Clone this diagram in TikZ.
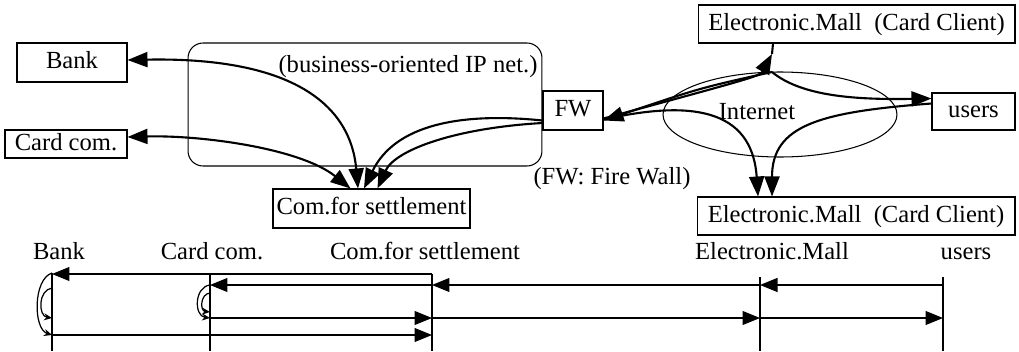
\documentclass[tikz,border=0pt]{standalone}
\usepackage{fontspec}
\setmainfont{Liberation Serif}
\usepackage{tikz}
\usetikzlibrary{shapes.geometric,arrows.meta,positioning,calc}

\begin{document}
\begin{tikzpicture}[
    x=0.02cm, y=-0.02cm,
    every node/.style={font=\fontsize{14}{16}\selectfont, inner sep=0pt, text height=0.34cm, text depth=0.09cm},
    box/.style={draw, line width=0.6pt, minimum height=0.78cm},
    netbox/.style={draw, line width=0.6pt, rounded corners=0.3cm, minimum width=7.08cm, minimum height=2.46cm},
    cloud/.style={draw, ellipse, line width=0.6pt, minimum width=4.68cm, minimum height=1.7cm},
    arrow/.style={-{Triangle[length=4mm,width=3mm]}, line width=1.2pt},
    twoway/.style={{Triangle[length=4mm,width=3mm]}-{Triangle[length=4mm,width=3mm]}, line width=1.2pt},
    msg/.style={-{Triangle[length=3.5mm,width=2.8mm]}, line width=0.6pt},
    life/.style={line width=0.6pt},
    selfloop/.style={-{Stealth[length=1.6mm,width=1.4mm]}, line width=0.7pt},
    head/.style={anchor=base},
]
    \useasboundingbox (0,0) rectangle (1019,352);

    % Business network
    \node[netbox] (net) at (365,104.5) {};
    \node (netlabel) at (408,66) {(business-oriented IP net.)};
    \node[box, minimum width=2.2cm] (bank) at (72,62.5) {Bank};
    \node[box, minimum width=2.44cm, minimum height=0.56cm] (card) at (66,144) {Card com.};
    \node[box, minimum width=3.94cm] (settle) at (371.5,208.5) {Com.for settlement};
    \node[box, minimum width=1.2cm] (fw) at (573,110.5) {FW};
    \node (fwnote) at (612,178) {(FW: Fire Wall)};

    % Internet side
    \node[cloud] (inet) at (780,114.5) {};
    \node (inettext) at (757,113) {Internet};
    \node[box, minimum width=6.34cm, minimum height=0.76cm] (malltop) at (856.5,24) {Electronic.Mall\enspace(Card Client)};
    \node[box, minimum width=1.66cm, minimum height=0.74cm] (users) at (973.5,111.5) {users};
    \node[box, minimum width=6.36cm, minimum height=0.76cm] (mallbot) at (856,216) {Electronic.Mall\enspace(Card Client)};
    \coordinate (jn) at (772,54);
    \coordinate (split) at (772,72);

    % Arrows - business network
    \draw[twoway] ([yshift=0.05cm]bank.east) .. controls (285,57) and (350,100) .. ([xshift=-0.27cm]settle.north);
    \draw[twoway] ([yshift=0.14cm]card.east) .. controls (200,135) and (300,148) .. ([xshift=-0.42cm]settle.north);
    \draw[arrow] ([yshift=-0.2cm]fw.west) .. controls (460,112) and (395,125) .. ([xshift=-0.15cm]settle.north);
    \draw[arrow] ([yshift=-0.25cm]fw.west) .. controls (455,128) and (395,150) .. ([xshift=0.12cm]settle.north);

    % Arrows - internet
    \draw[line width=1.2pt] ([xshift=-1.67cm]malltop.south) -- (jn);
    \draw[arrow] ([yshift=-0.16cm]fw.east) .. controls (760,76) .. (jn);
    \draw[arrow] (split) .. controls (700,88) .. ([yshift=-0.2cm]fw.east);
    \draw[arrow] (split) .. controls (800,95) and (850,100) .. ([yshift=0.26cm]users.west);
    \draw[arrow] ([yshift=0.16cm]users.west) .. controls (820,112) and (772,125) .. ([xshift=-1.68cm]mallbot.north);
    \draw[arrow] ([yshift=-0.18cm]fw.east) .. controls (690,100) and (752,108) .. ([xshift=-1.96cm]mallbot.north);

    % Sequence - heads
    \node[head] (hbank) at (59,259) {Bank};
    \node[head] (hcard) at (212,259) {Card com.};
    \node[head] (hsettle) at (425,259) {Com.for settlement};
    \node[head] (hmall) at (772,259) {Electronic.Mall};
    \node[head] (husers) at (966,259) {users};

    % Sequence - lifelines
    \coordinate (lbank) at (52,273);
    \coordinate (lcard) at (210,275);
    \coordinate (lsettle) at (432,274);
    \coordinate (lmall) at (760,277);
    \coordinate (lusers) at (943,277);
    \coordinate (m1) at (0,274);
    \coordinate (m2) at (0,285);
    \coordinate (m3) at (0,318);
    \coordinate (m4) at (0,335);
    \coordinate (mend) at (0,351);
    \draw[life] (lbank) -- (lbank |- mend);
    \draw[life] (lcard) -- (lcard |- mend);
    \draw[life] (lsettle) -- (lsettle |- mend);
    \draw[life] (lmall) -- (lmall |- mend);
    \draw[life] (lusers) -- (lusers |- mend);

    % Sequence - messages
    \draw[msg] (lsettle |- m1) -- (lbank |- m1);
    \draw[msg] (lusers |- m2) -- (lmall |- m2);
    \draw[msg] (lmall |- m2) -- (lsettle |- m2);
    \draw[msg] (lsettle |- m2) -- (lcard |- m2);
    \draw[msg] (lcard |- m3) -- (lsettle |- m3);
    \draw[msg] (lsettle |- m3) -- (lmall |- m3);
    \draw[msg] (lmall |- m3) -- (lusers |- m3);
    \draw[msg] (lbank |- m4) -- (lsettle |- m4);

    % Sequence - self loops
    \draw[selfloop] (lbank) .. controls +(-19,6) and +(-19,-6) .. ([yshift=-1.24cm]lbank);
    \draw[selfloop] ([yshift=-0.3cm]lbank) .. controls +(-14,2) and +(-14,-2) .. ([yshift=-0.9cm]lbank);
    \draw[selfloop] (lcard |- m2) .. controls +(-16,2) and +(-16,-2) .. (lcard |- m3);
    \draw[selfloop] ([yshift=-0.36cm]lcard) .. controls +(-10,1) and +(-10,-1) .. ([yshift=-0.74cm]lcard);
\end{tikzpicture}
\end{document}
